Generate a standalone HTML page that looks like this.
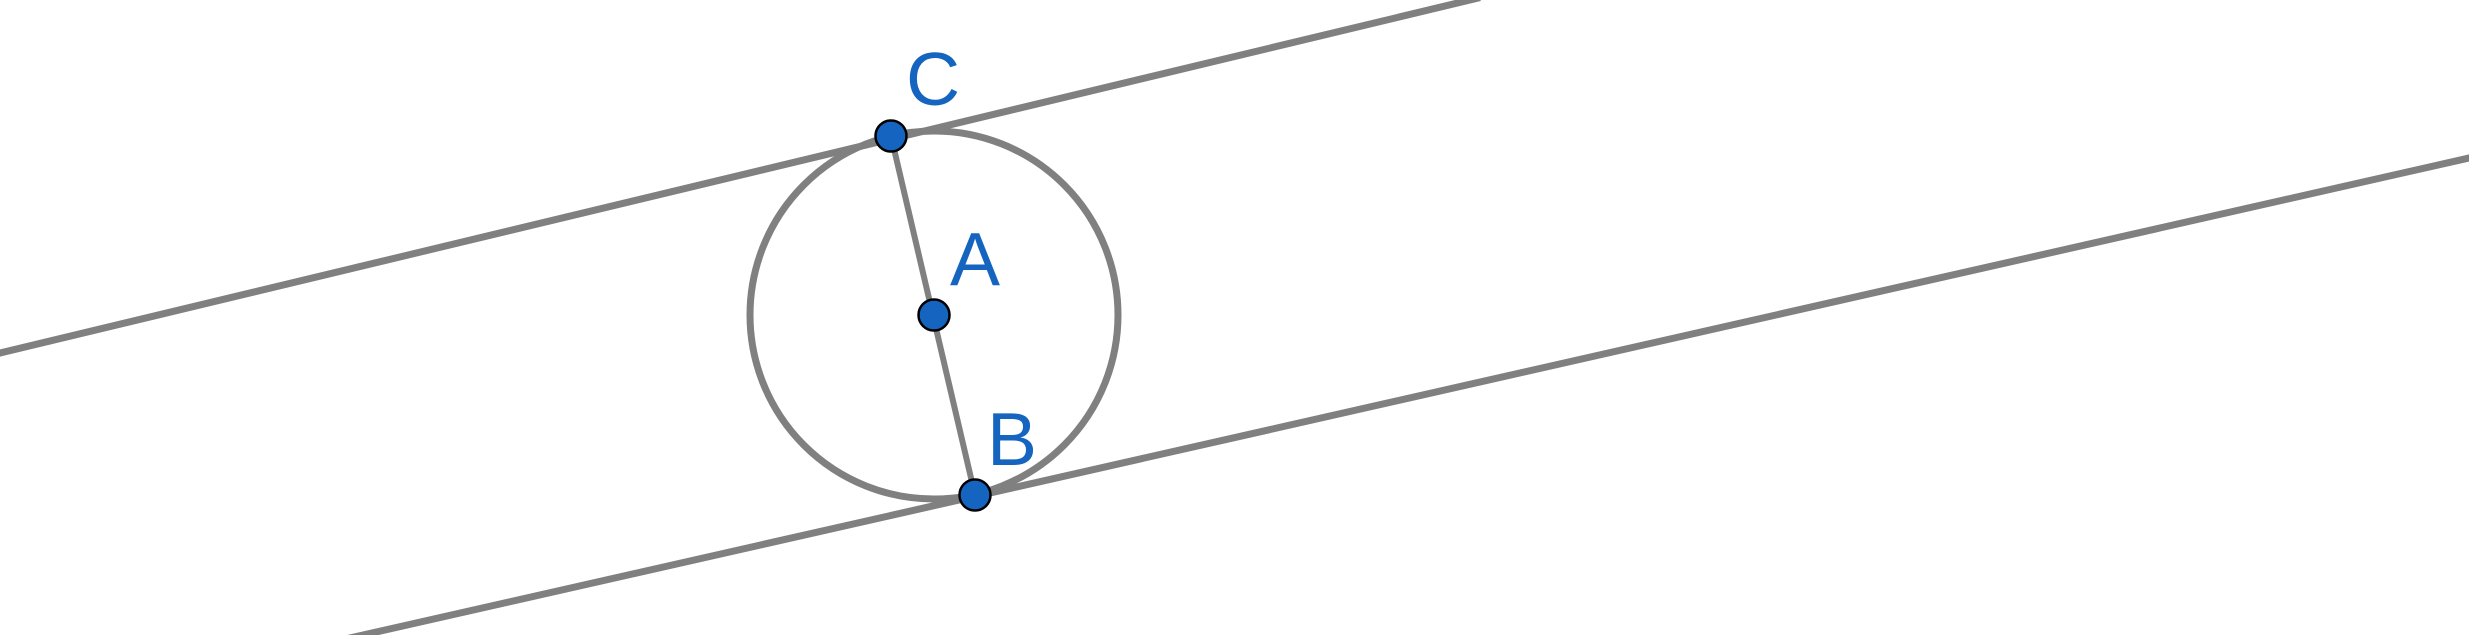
<!DOCTYPE html>
<html><head><style>html,body{margin:0;padding:0;background:#fff;width:2469px;height:635px;overflow:hidden}</style></head>
<body>
<svg width="2469" height="635" viewBox="0 0 2469 635" xmlns="http://www.w3.org/2000/svg">
<g stroke="#808080" fill="none" stroke-width="7">
<line x1="-10" y1="355.4" x2="1480" y2="-2.4"/>
<line x1="330" y1="642.5" x2="2480" y2="155.5"/>
<circle cx="934" cy="315" r="184"/>
<line x1="891" y1="136" x2="975" y2="495" stroke-width="6"/>
</g>
<g fill="#1565c0" stroke="#000" stroke-width="2.5">
<circle cx="891" cy="136" r="15.5"/>
<circle cx="934" cy="315" r="15.5"/>
<circle cx="975" cy="495" r="15.5"/>
</g>
<g fill="#1565c0" font-family="Liberation Sans, sans-serif" font-size="75">
<text x="906" y="105">C</text>
<text x="950" y="285">A</text>
<text x="987" y="465">B</text>
</g>
</svg>
</body></html>
